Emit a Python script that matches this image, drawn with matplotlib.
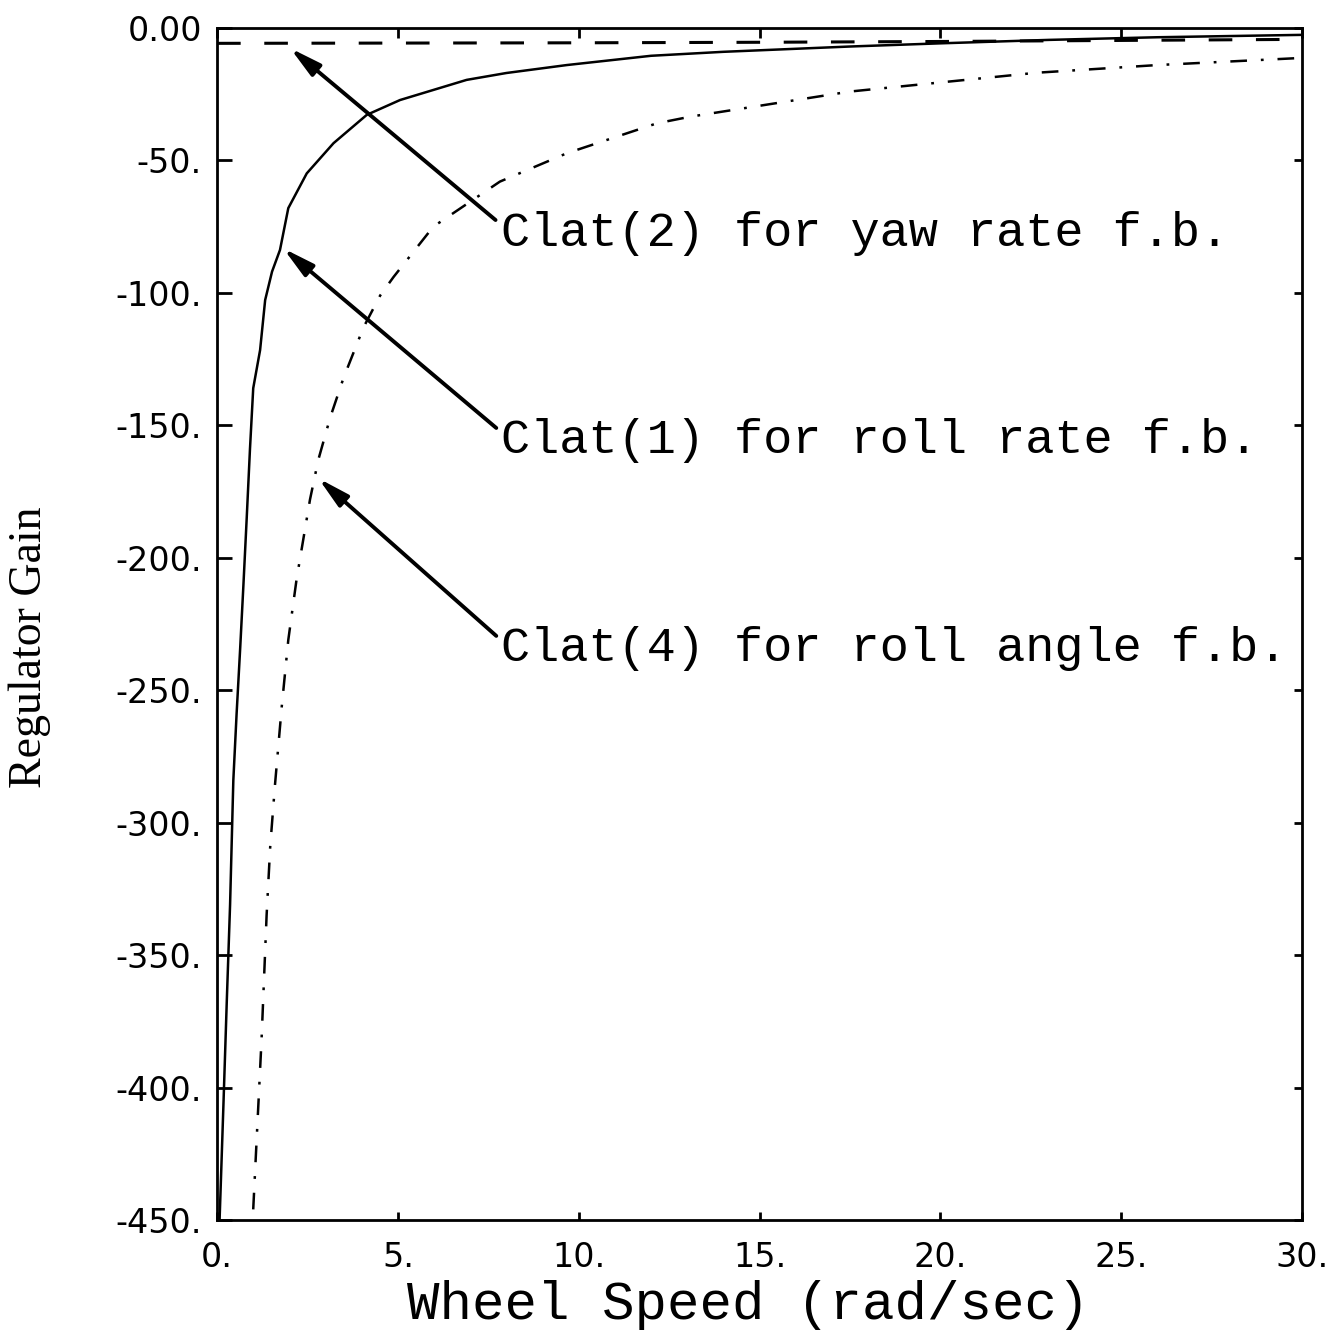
import numpy as np
import matplotlib
matplotlib.use('Agg')
import matplotlib.pyplot as plt

plt.rcParams['lines.scale_dashes'] = False

# regulator gains vs wheel speed
# Clat(1), roll rate feedback (solid)
clat1_x = [0.07, 0.18, 0.27, 0.36, 0.45, 0.54, 0.64, 0.73, 0.82, 0.91, 1.0, 1.19, 1.33,
           1.52, 1.74, 1.97, 2.48, 3.22, 4.14, 5.06, 6.44, 6.9, 8.0, 9.67, 12.0, 14.0,
           17.5, 20.0, 23.0, 26.0, 30.0]
clat1_y = [-450, -405, -367, -331, -284, -259, -234, -210, -185, -159, -136, -121.6, -102.7,
           -92, -83.8, -68, -54.9, -43.5, -32.8, -27.2, -21.5, -19.6, -17, -14, -10.5, -9.0,
           -7.0, -5.8, -4.5, -3.5, -2.6]

# Clat(2), yaw rate feedback (dashed)
clat2_x = [0, 5, 10, 15, 20, 25, 30]
clat2_y = [-5.8, -5.7, -5.6, -5.4, -5.1, -4.7, -4.3]

# Clat(4), roll angle feedback (dash-dot)
clat4_x = [1.0, 1.23, 1.37, 1.47, 1.60, 1.79, 1.97, 2.20, 2.57, 2.80, 3.13, 3.50, 4.05,
           4.51, 4.88, 5.98, 7.82, 9.67, 12.16, 13.08, 17.5, 22.66, 26.0, 30.0]
clat4_y = [-446, -382, -335, -309, -286, -256, -231, -208, -178, -163, -147, -132, -113,
           -101, -94, -75, -58, -47.3, -36, -33.5, -24, -16.9, -14, -11.3]

x_ticks = [0, 5, 10, 15, 20, 25, 30]
x_ticklabels = ['0.', '5.', '10.', '15.', '20.', '25.', '30.']
y_ticks = [0, -50, -100, -150, -200, -250, -300, -350, -400, -450]
y_ticklabels = ['0.00', '-50.', '-100.', '-150.', '-200.', '-250.', '-300.', '-350.',
                '-400.', '-450.']

labels = ['Clat(2) for yaw rate f.b.', 'Clat(1) for roll rate f.b.',
          'Clat(4) for roll angle f.b.']
label_y = [-82.3, -160.4, -239.0]
arrow_tail = [(7.7, -72.5), (7.72, -151.0), (7.72, -229.5)]
arrow_tip = [(2.02, -7.6), (1.83, -83.2), (2.80, -170.0)]

fig = plt.figure(figsize=(13.3, 13.32), dpi=100)
ax = fig.add_axes([0.1632, 0.0841, 0.8158, 0.8949])

ax.plot(clat1_x, clat1_y, color='black', lw=1.8)
ax.plot(clat2_x, clat2_y, color='black', lw=2.2, dashes=[17, 17])
ax.plot(clat4_x, clat4_y, color='black', lw=1.8, dashes=[12, 10, 2, 10])

ax.set_xlim(0, 30)
ax.set_ylim(-450, 0)
ax.set_xticks(x_ticks)
ax.set_xticklabels(x_ticklabels, fontfamily='DejaVu Sans', fontsize=24)
ax.set_yticks(y_ticks)
ax.set_yticklabels(y_ticklabels, fontfamily='DejaVu Sans', fontsize=24)
ax.tick_params(axis='x', direction='in', length=6, width=2, pad=15)
ax.tick_params(axis='y', direction='in', length=11, width=2, pad=11)
for s in ax.spines.values():
    s.set_linewidth(2)

secx = ax.secondary_xaxis('top')
secx.set_xticks(x_ticks)
secx.set_xticklabels([])
secx.tick_params(direction='in', length=7, width=2)
secy = ax.secondary_yaxis('right')
secy.set_yticks(y_ticks)
secy.set_yticklabels([])
secy.tick_params(direction='in', length=6, width=2)

for lab, ly, tail, tip in zip(labels, label_y, arrow_tail, arrow_tip):
    ax.annotate('', xy=tip, xytext=tail,
                arrowprops=dict(arrowstyle='-|>,head_length=0.75,head_width=0.18',
                                mutation_scale=25, lw=2.8, color='black', fc='black',
                                shrinkA=0, shrinkB=0))
    ax.text(7.85, ly, lab, fontfamily='Liberation Mono', fontsize=35,
            ha='left', va='baseline')

fig.text(0.0226, 0.514, 'Regulator Gain', rotation=90, fontfamily='Liberation Serif',
         fontsize=33, ha='center', va='center')
fig.text(0.5624, 0.0203, 'Wheel Speed (rad/sec)', fontfamily='Liberation Mono',
         fontsize=39, ha='center', va='center')

fig.savefig('out.png', dpi=100)
